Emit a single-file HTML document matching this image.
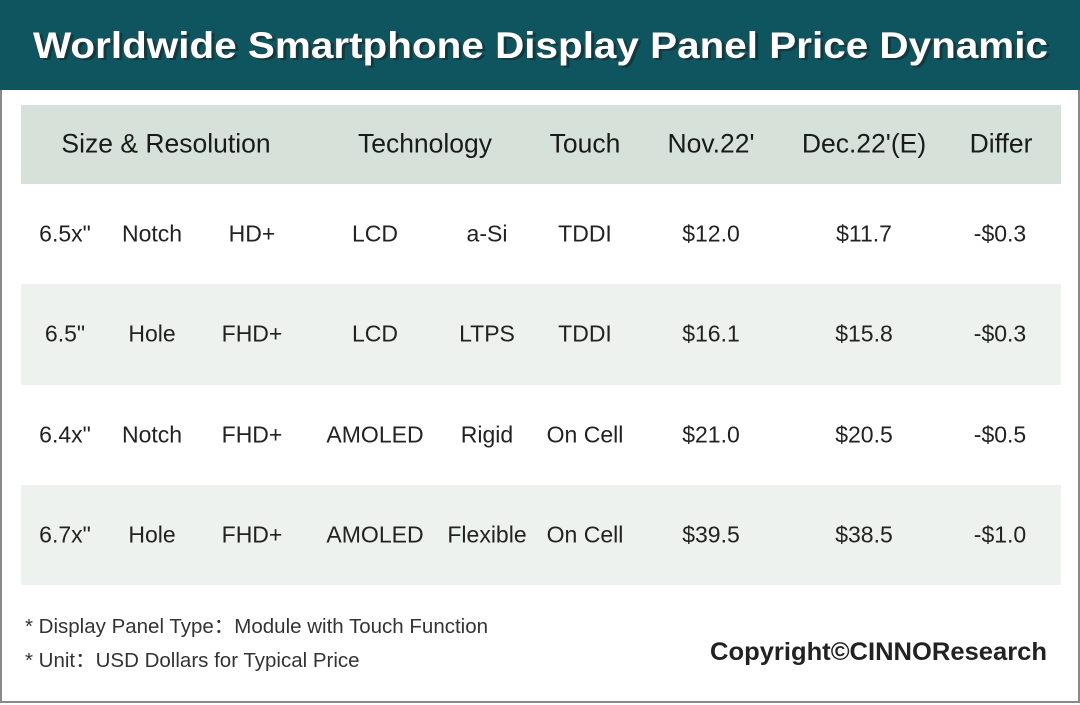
<!DOCTYPE html>
<html><head><meta charset="utf-8"><style>
body{margin:0;width:1080px;height:705px;overflow:hidden;background:#fff;font-family:"Liberation Sans","DejaVu Sans",sans-serif;}
#frame{position:absolute;left:0;top:0;width:1076px;height:701px;border:2px solid #8a8a8a;border-top:none;}
.hdr{position:absolute;left:0;top:0;width:1080px;height:90px;background:#0e5560;}
.row{position:absolute;left:21px;width:1040px;}
.t{position:absolute;transform:translate(-50%,-50%);white-space:nowrap;font-size:23px;color:#222;}
.h{font-size:26.5px;color:#1a1a1a;}
.fn{position:absolute;left:25px;font-size:20.5px;color:#333;}
</style></head><body>
<div id="frame"></div>
<div class="hdr"></div>
<svg style="position:absolute;left:0;top:0" width="1080" height="90">
<text x="36" y="60" font-family="Liberation Sans, sans-serif" font-weight="bold" font-size="37" fill="#222" opacity="0.6" textLength="1015" lengthAdjust="spacingAndGlyphs">Worldwide Smartphone Display Panel Price Dynamic</text>
<text x="33" y="58" font-family="Liberation Sans, sans-serif" font-weight="bold" font-size="37" fill="#fff" textLength="1015" lengthAdjust="spacingAndGlyphs">Worldwide Smartphone Display Panel Price Dynamic</text>
</svg>
<div class="row" style="top:105px;height:79px;background:#d6e2d9"></div>
<div class="row" style="top:284px;height:101px;background:#edf2ee"></div>
<div class="row" style="top:485px;height:100px;background:#edf2ee"></div>

<div class="t h" style="left:166px;top:144px">Size &amp; Resolution</div>
<div class="t h" style="left:425px;top:144px">Technology</div>
<div class="t h" style="left:585px;top:144px">Touch</div>
<div class="t h" style="left:711px;top:144px">Nov.22'</div>
<div class="t h" style="left:864px;top:144px">Dec.22'(E)</div>
<div class="t h" style="left:1001px;top:144px">Differ</div>

<div class="t" style="left:65px;top:234px">6.5x"</div><div class="t" style="left:152px;top:234px">Notch</div><div class="t" style="left:252px;top:234px">HD+</div><div class="t" style="left:375px;top:234px">LCD</div><div class="t" style="left:487px;top:234px">a-Si</div><div class="t" style="left:585px;top:234px">TDDI</div><div class="t" style="left:711px;top:234px">$12.0</div><div class="t" style="left:864px;top:234px">$11.7</div><div class="t" style="left:1000px;top:234px">-$0.3</div>

<div class="t" style="left:65px;top:334px">6.5"</div><div class="t" style="left:152px;top:334px">Hole</div><div class="t" style="left:252px;top:334px">FHD+</div><div class="t" style="left:375px;top:334px">LCD</div><div class="t" style="left:487px;top:334px">LTPS</div><div class="t" style="left:585px;top:334px">TDDI</div><div class="t" style="left:711px;top:334px">$16.1</div><div class="t" style="left:864px;top:334px">$15.8</div><div class="t" style="left:1000px;top:334px">-$0.3</div>

<div class="t" style="left:65px;top:435px">6.4x"</div><div class="t" style="left:152px;top:435px">Notch</div><div class="t" style="left:252px;top:435px">FHD+</div><div class="t" style="left:375px;top:435px">AMOLED</div><div class="t" style="left:487px;top:435px">Rigid</div><div class="t" style="left:585px;top:435px">On Cell</div><div class="t" style="left:711px;top:435px">$21.0</div><div class="t" style="left:864px;top:435px">$20.5</div><div class="t" style="left:1000px;top:435px">-$0.5</div>

<div class="t" style="left:65px;top:535px">6.7x"</div><div class="t" style="left:152px;top:535px">Hole</div><div class="t" style="left:252px;top:535px">FHD+</div><div class="t" style="left:375px;top:535px">AMOLED</div><div class="t" style="left:487px;top:535px">Flexible</div><div class="t" style="left:585px;top:535px">On Cell</div><div class="t" style="left:711px;top:535px">$39.5</div><div class="t" style="left:864px;top:535px">$38.5</div><div class="t" style="left:1000px;top:535px">-$1.0</div>

<div class="fn" style="top:609px">* Display Panel Type：Module with Touch Function</div>
<div class="fn" style="top:643px">* Unit：USD Dollars for Typical Price</div>
<svg style="position:absolute;left:0;top:620px" width="1080" height="60">
<text x="710" y="40" font-family="Liberation Sans, sans-serif" font-weight="bold" font-size="25" fill="#222" textLength="337" lengthAdjust="spacingAndGlyphs">Copyright©CINNOResearch</text>
</svg>
</body></html>
